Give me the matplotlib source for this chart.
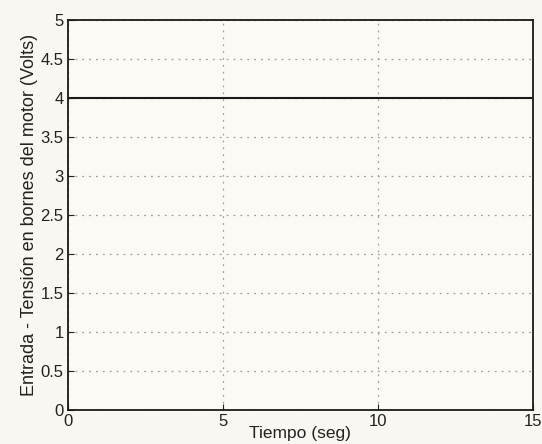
import numpy as np
import matplotlib.pyplot as plt

plt.rcParams['font.family'] = ['Liberation Sans', 'DejaVu Sans']

# datos
tiempo = [0, 15]
tension = [4, 4]
xticks = [0, 5, 10, 15]
yticks = [0, 0.5, 1, 1.5, 2, 2.5, 3, 3.5, 4, 4.5, 5]

fig = plt.figure(figsize=(5.42, 4.44), dpi=100, facecolor='#f9f7f1')
ax = fig.add_axes([0.125, 0.077, 0.858, 0.878])
ax.set_facecolor('#fbfaf5')

ax.plot(tiempo, tension, color='#1a1a1a', linewidth=1.5)

ax.set_xlim(0, 15)
ax.set_ylim(0, 5)
ax.set_xticks(xticks)
ax.set_yticks(yticks)
ax.set_yticklabels([f'{v:g}' for v in yticks])
ax.tick_params(direction='in', length=4, labelsize=12, colors='#222222', pad=3)
ax.grid(True, linestyle=(0, (1.5, 4)), color='#a0a0a0', linewidth=0.9)
for s in ax.spines.values():
    s.set_linewidth(1.3)
    s.set_color('#1a1a1a')

ax.set_xlabel('Tiempo (seg)', fontsize=12.5, labelpad=-2, color='#222222')
ax.set_ylabel('Entrada - Tensión en bornes del motor (Volts)', fontsize=13,
              labelpad=2, color='#222222')

fig.savefig('out.png', dpi=100, facecolor=fig.get_facecolor())
